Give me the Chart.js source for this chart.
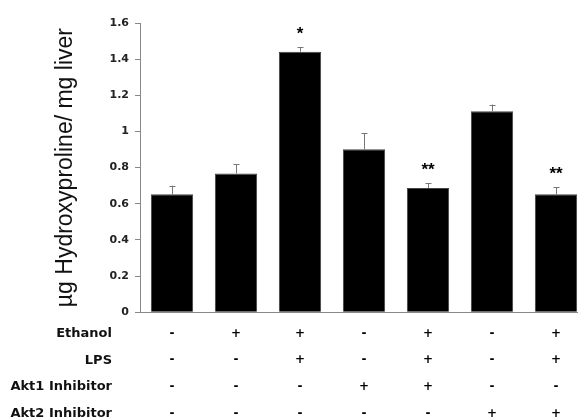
<!DOCTYPE html>
<html>
<head>
<meta charset="utf-8">
<script src="https://cdn.jsdelivr.net/npm/chart.js@4"></script>
<style>
  body { margin: 0; background: #fff; }
  #wrap { width: 578px; height: 419px; overflow: hidden; }
</style>
</head>
<body>
<div id="wrap"><canvas id="myChart" width="588" height="435"></canvas></div>
<script>
// values
var groups = ['g1', 'g2', 'g3', 'g4', 'g5', 'g6', 'g7'];
var means = [0.652, 0.768, 1.441, 0.901, 0.687, 1.112, 0.652];
var errTop = [0.70, 0.82, 1.467, 0.99, 0.713, 1.149, 0.692];
var stars = ['', '', '*', '', '**', '', '**'];

var rowNames = ['Ethanol', 'LPS', 'Akt1 Inhibitor', 'Akt2 Inhibitor'];
var ethanol = ['-', '+', '+', '-', '+', '-', '+'];
var lps = ['-', '-', '+', '-', '+', '-', '+'];
var akt1 = ['-', '-', '-', '+', '+', '-', '-'];
var akt2 = ['-', '-', '-', '-', '-', '+', '+'];

var rows = [ethanol, lps, akt1, akt2];
var lineH = 26.7;
var padX = 8;
var wideFam = '"DejaVu Sans", Verdana, sans-serif';

let ctx = document.getElementById('myChart').getContext('2d');

let extras = {
  id: 'extras',
  afterDatasetsDraw(chart) {
    let c = chart.ctx;
    let x = chart.scales.x, y = chart.scales.y;
    c.save();
    // error bars (upper only)
    c.strokeStyle = '#777';
    c.lineWidth = 1;
    means.forEach((m, i) => {
      let px = Math.round(x.getPixelForValue(i)) + 0.5;
      let y0 = y.getPixelForValue(m);
      let y1 = y.getPixelForValue(errTop[i]);
      c.beginPath();
      c.moveTo(px, y0);
      c.lineTo(px, y1);
      c.moveTo(px - 3, Math.round(y1) + 0.5);
      c.lineTo(px + 3, Math.round(y1) + 0.5);
      c.stroke();
    });
    // significance marks
    c.fillStyle = '#000';
    c.font = 'bold 17px "Liberation Sans", Arial, sans-serif';
    c.textAlign = 'center';
    c.textBaseline = 'middle';
    stars.forEach((s, i) => {
      if (!s) return;
      c.fillText(s, x.getPixelForValue(i), y.getPixelForValue(errTop[i]) - 13);
    });
    // row names under the axis
    c.font = 'bold 13px ' + wideFam;
    c.fillStyle = '#111';
    c.textAlign = 'right';
    rowNames.forEach((n, r) => {
      c.fillText(n, 112, x.top + padX + lineH * (r + 0.5));
    });
    c.restore();
  }
};

var myChart = new Chart(ctx, {
  type: 'bar',
  data: {
    labels: groups.map((g, i) => rows.map(r => r[i])),
    datasets: [{
      data: means,
      backgroundColor: '#000',
      borderColor: '#444',
      borderWidth: 1,
      barPercentage: 0.66,
      categoryPercentage: 1
    }]
  },
  options: {
    responsive: false,
    animation: false,
    events: [],
    layout: { padding: { top: 23, left: 0, right: 0, bottom: 0 } },
    plugins: { legend: { display: false }, tooltip: { enabled: false } },
    scales: {
      x: {
        grid: { display: false, drawTicks: false },
        border: { color: '#888', width: 1 },
        ticks: {
          autoSkip: false,
          maxRotation: 0,
          padding: padX,
          color: '#000',
          font: { family: wideFam, size: 12, weight: 'bold', lineHeight: lineH + 'px' }
        }
      },
      y: {
        min: 0,
        max: 1.6,
        afterFit: s => { s.width = 140; },
        grid: { drawOnChartArea: false, tickLength: 5, color: '#888' },
        border: { color: '#888', width: 1 },
        ticks: {
          stepSize: 0.2,
          padding: 6,
          color: '#222',
          callback: v => String(Number(v.toFixed(1))),
          font: { family: wideFam, size: 11, weight: 'bold' }
        },
        title: {
          display: true,
          text: 'µg Hydroxyproline/ mg liver',
          color: '#111',
          padding: { top: 52, bottom: 0 },
          font: { family: '"Liberation Sans", Arial, sans-serif', size: 23 }
        }
      }
    }
  },
  plugins: [extras]
});
</script>
</body>
</html>
